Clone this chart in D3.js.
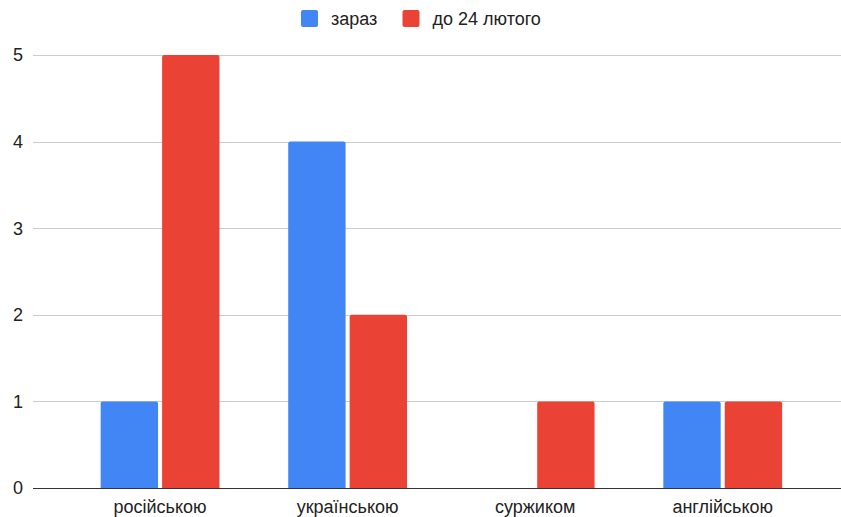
<!DOCTYPE html>
<html>
<head>
<meta charset="utf-8">
<script src="https://cdn.jsdelivr.net/npm/d3@7"></script>
<style>
  html, body { margin: 0; padding: 0; background: #fff; }
  svg { display: block; font-family: Arial, "Liberation Sans", sans-serif; }
</style>
</head>
<body>
<svg id="chart" width="841" height="517"></svg>
<script>
// Мова спілкування: зараз і до 24 лютого
const categories = ["російською", "українською", "суржиком", "англійською"];
const seriesNames = ["зараз", "до 24 лютого"];
const nowValues = [1, 4, 0, 1];
const beforeValues = [5, 2, 1, 1];
const yTicks = [0, 1, 2, 3, 4, 5];
const colors = ["#4285f4", "#ea4335"];

const svg = d3.select("#chart");
const plot = { left: 33, right: 841, top: 55, bottom: 488 };
const fontSize = 18;

const y = d3.scaleLinear().domain([0, 5]).range([plot.bottom, plot.top]);
const x0 = d3.scaleBand().domain(categories).range([66.3, 816.5]).padding(0);
const groupW = 118.8;
const x1 = d3.scaleBand().domain(seriesNames).range([0, groupW]).paddingInner(0.066);

const rows = categories.map((c, i) => ({
  cat: c,
  vals: [nowValues[i], beforeValues[i]]
}));

// gridlines
svg.append("g")
  .selectAll("line")
  .data(yTicks.filter(t => t > 0))
  .join("line")
  .attr("x1", plot.left).attr("x2", plot.right)
  .attr("y1", d => Math.round(y(d)) + 0.5).attr("y2", d => Math.round(y(d)) + 0.5)
  .attr("stroke", "#cccccc").attr("stroke-width", 1);

// y tick labels
svg.append("g")
  .selectAll("text")
  .data(yTicks)
  .join("text")
  .attr("x", 23).attr("y", d => y(d))
  .attr("dy", "0.35em")
  .attr("text-anchor", "end")
  .attr("font-size", fontSize)
  .attr("fill", "#222")
  .text(d => d);

// bars with slightly rounded tops
function barPath(x, w, y0, y1, r) {
  const h = y0 - y1;
  if (h <= 0) return "";
  r = Math.min(r, h, w / 2);
  return `M${x},${y0}V${y1 + r}Q${x},${y1} ${x + r},${y1}H${x + w - r}Q${x + w},${y1} ${x + w},${y1 + r}V${y0}Z`;
}

const groups = svg.append("g")
  .selectAll("g")
  .data(rows)
  .join("g")
  .attr("transform", d => `translate(${x0(d.cat) + (x0.bandwidth() - groupW) / 2},0)`);

groups.selectAll("path")
  .data(d => d.vals.map((v, j) => ({ name: seriesNames[j], v, j })))
  .join("path")
  .attr("d", d => barPath(x1(d.name), x1.bandwidth(), y(0), y(d.v), 2))
  .attr("fill", d => colors[d.j]);

// baseline
svg.append("line")
  .attr("x1", plot.left).attr("x2", plot.right)
  .attr("y1", Math.round(y(0)) + 0.5).attr("y2", Math.round(y(0)) + 0.5)
  .attr("stroke", "#333").attr("stroke-width", 1);

// x category labels
svg.append("g")
  .selectAll("text")
  .data(categories)
  .join("text")
  .attr("x", d => x0(d) + x0.bandwidth() / 2)
  .attr("y", 513)
  .attr("text-anchor", "middle")
  .attr("font-size", fontSize)
  .attr("fill", "#222")
  .text(d => d);

// legend
const legendItems = [
  { name: seriesNames[0], x: 301 },
  { name: seriesNames[1], x: 402.5 }
];
const lg = svg.append("g")
  .selectAll("g")
  .data(legendItems)
  .join("g")
  .attr("transform", d => `translate(${d.x},10)`);
lg.append("rect")
  .attr("width", 17).attr("height", 17).attr("rx", 2)
  .attr("fill", (d, i) => colors[i]);
lg.append("text")
  .attr("x", 30).attr("y", 8.5).attr("dy", "0.35em")
  .attr("font-size", fontSize).attr("fill", "#222")
  .text(d => d.name);
</script>
</body>
</html>
